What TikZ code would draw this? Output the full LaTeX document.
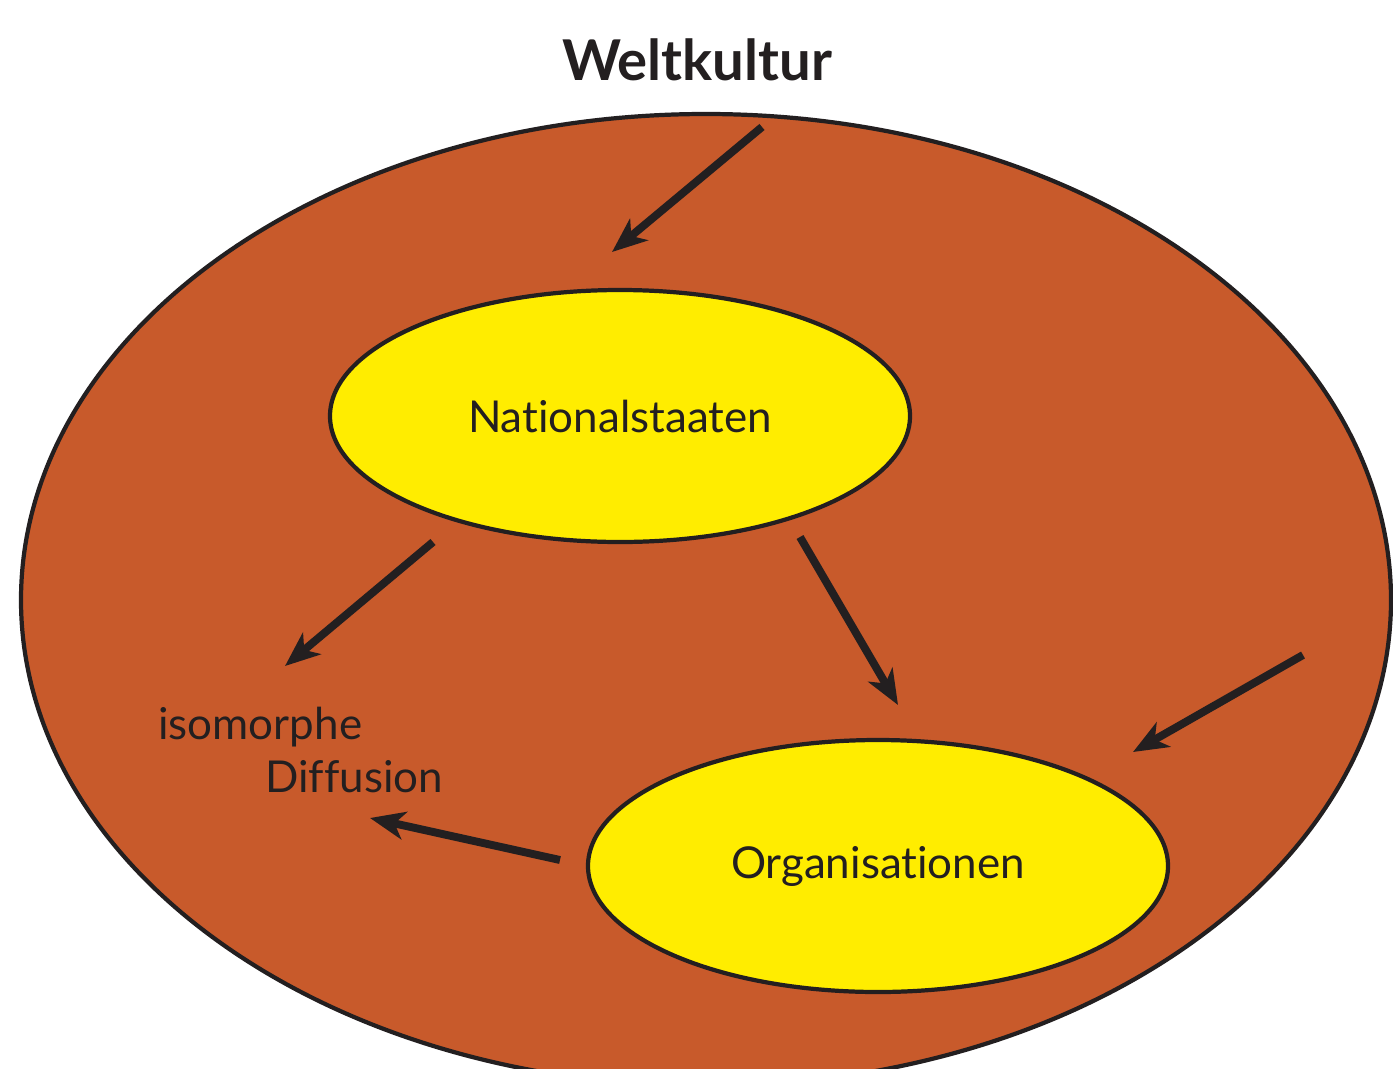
\documentclass[tikz,border=0pt]{standalone}
\usepackage{fontspec}
\setmainfont[Ligatures=NoCommon]{Lato}
\usetikzlibrary{shapes.geometric,arrows.meta}
\definecolor{kulturfarbe}{HTML}{C85A2B}
\definecolor{gelb}{HTML}{FFED00}
\definecolor{tinte}{HTML}{231F20}

\begin{document}
\begin{tikzpicture}[auto,
    kultur/.style ={ellipse, draw=tinte, line width=2.4pt, fill=kulturfarbe,
                    inner sep=0pt, minimum width=27.4cm, minimum height=19.44cm},
    akteur/.style ={ellipse, draw=tinte, line width=2.4pt, fill=gelb, text=tinte,
                    inner sep=0pt, minimum width=11.6cm, minimum height=5.04cm,
                    font=\fontsize{25}{30.5}\selectfont},
    pfeil/.style ={draw=tinte, line width=4.5pt,
                   -{Stealth[length=0.7cm, width=0.56cm, inset=0.2cm]}}]
   \useasboundingbox (0,0) rectangle (27.86,-21.36);
   \node[kultur] (welt) at (14.12,-12.0) {};
   \node[font=\bfseries\fontsize{32}{38}\selectfont, text=tinte] (titel) at (13.94,-1.2) {Weltkultur};
   \node[akteur] (staat) at (12.4,-8.32) {Nationalstaaten};
   \node[akteur] (org) at (17.56,-17.32) {Organisationen};
   \node[anchor=west, inner sep=0pt, align=left, text=tinte,
         font=\fontsize{25}{30.5}\selectfont] (iso) at (3.16,-15.0)
         {isomorphe\\\hspace*{2.14cm}Diffusion};
   \coordinate (A1) at (15.24,-2.54);
   \coordinate (B1) at (12.24,-5.04);
   \coordinate (A2) at (8.66,-10.84);
   \coordinate (B2) at (5.70,-13.32);
   \coordinate (A3) at (16.0,-10.74);
   \coordinate (B3) at (17.96,-14.10);
   \coordinate (A4) at (26.06,-13.10);
   \coordinate (B4) at (22.66,-15.04);
   \coordinate (A5) at (11.2,-17.2);
   \coordinate (B5) at (7.40,-16.36);
   \draw[pfeil] (A1) to (B1);
   \draw[pfeil] (A2) to (B2);
   \draw[pfeil] (A3) to (B3);
   \draw[pfeil] (A4) to (B4);
   \draw[pfeil] (A5) to (B5);
 \end{tikzpicture}
\end{document}
